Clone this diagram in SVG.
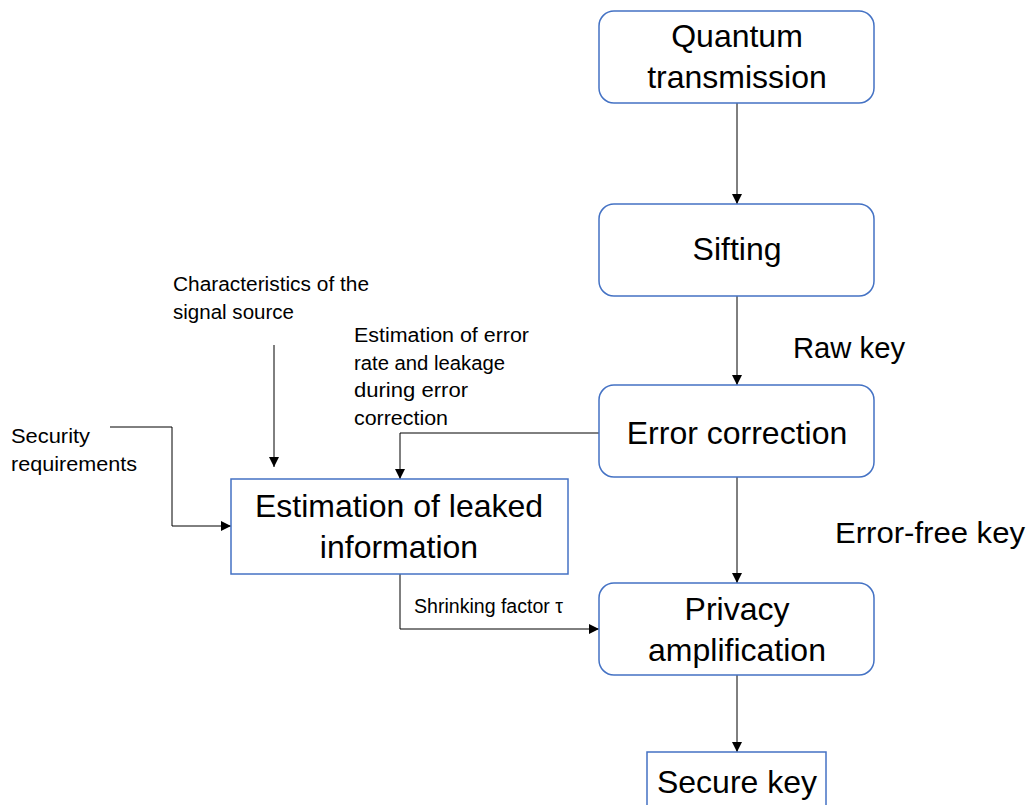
<svg xmlns="http://www.w3.org/2000/svg" width="1031" height="805" viewBox="0 0 1031 805">
<defs>
<marker id="ah" viewBox="0 0 10 10" refX="10" refY="5" markerWidth="10" markerHeight="10" markerUnits="userSpaceOnUse" orient="auto">
<path d="M0,0 L10,5 L0,10 Z" fill="#000"/>
</marker>
<style>
.box{fill:#fff;stroke:#4472C4;stroke-width:1.5}
.big{font-family:"Liberation Sans",Arial,sans-serif;font-size:32px;fill:#000;text-anchor:middle}
.lab{font-family:"Liberation Sans",Arial,sans-serif;font-size:20px;fill:#000}
.mid{font-family:"Liberation Sans",Arial,sans-serif;font-size:30px;fill:#000}
.c{fill:none;stroke:#000;stroke-width:1;marker-end:url(#ah)}
</style>
</defs>
<rect width="1031" height="805" fill="#fff"/>
<g id="connectors">
<line class="c" x1="737" y1="103" x2="737" y2="204"/>
<line class="c" x1="737" y1="296" x2="737" y2="385"/>
<line class="c" x1="737" y1="477" x2="737" y2="583"/>
<line class="c" x1="737" y1="675" x2="737" y2="752"/>
<polyline class="c" points="599,433 400,433 400,479"/>
<line class="c" x1="274" y1="345" x2="274" y2="467"/>
<polyline class="c" points="110,427 172,427 172,526 231,526"/>
<polyline class="c" points="400,574 400,629 599,629"/>
</g>
<g id="quantum">
<rect class="box" x="599" y="11" width="275" height="92" rx="15"/>
<text class="big" x="737" y="47">Quantum</text>
<text class="big" x="737" y="88">transmission</text>
</g>
<g id="sifting">
<rect class="box" x="599" y="204" width="275" height="92" rx="15"/>
<text class="big" x="737" y="260">Sifting</text>
</g>
<g id="errorcorrection">
<rect class="box" x="599" y="385" width="275" height="92" rx="15"/>
<text class="big" x="737" y="444">Error correction</text>
</g>
<g id="privacy">
<rect class="box" x="599" y="583" width="275" height="92" rx="15"/>
<text class="big" x="737" y="620">Privacy</text>
<text class="big" x="737" y="661">amplification</text>
</g>
<g id="securekey">
<rect class="box" x="647" y="752" width="179" height="70"/>
<text class="big" x="737" y="793">Secure key</text>
</g>
<g id="estimation">
<rect class="box" x="231" y="479" width="337" height="95"/>
<text class="big" x="399" y="517">Estimation of leaked</text>
<text class="big" x="399" y="558">information</text>
</g>
<g id="labels">
<text class="lab" x="173" y="291" textLength="196" lengthAdjust="spacingAndGlyphs">Characteristics of the</text>
<text class="lab" x="173" y="319" textLength="121" lengthAdjust="spacingAndGlyphs">signal source</text>
<text class="lab" x="354" y="342" textLength="175" lengthAdjust="spacingAndGlyphs">Estimation of error</text>
<text class="lab" x="354" y="370" textLength="151" lengthAdjust="spacingAndGlyphs">rate and leakage</text>
<text class="lab" x="354" y="397" textLength="114" lengthAdjust="spacingAndGlyphs">during error</text>
<text class="lab" x="354" y="425" textLength="94" lengthAdjust="spacingAndGlyphs">correction</text>
<text class="lab" x="11" y="443" textLength="79" lengthAdjust="spacingAndGlyphs">Security</text>
<text class="lab" x="11" y="471" textLength="126" lengthAdjust="spacingAndGlyphs">requirements</text>
<text class="lab" x="414" y="613" textLength="149" lengthAdjust="spacingAndGlyphs">Shrinking factor τ</text>
<text class="mid" x="793" y="358" textLength="112" lengthAdjust="spacingAndGlyphs">Raw key</text>
<text class="mid" x="835" y="543" textLength="190" lengthAdjust="spacingAndGlyphs">Error-free key</text>
</g>
</svg>
